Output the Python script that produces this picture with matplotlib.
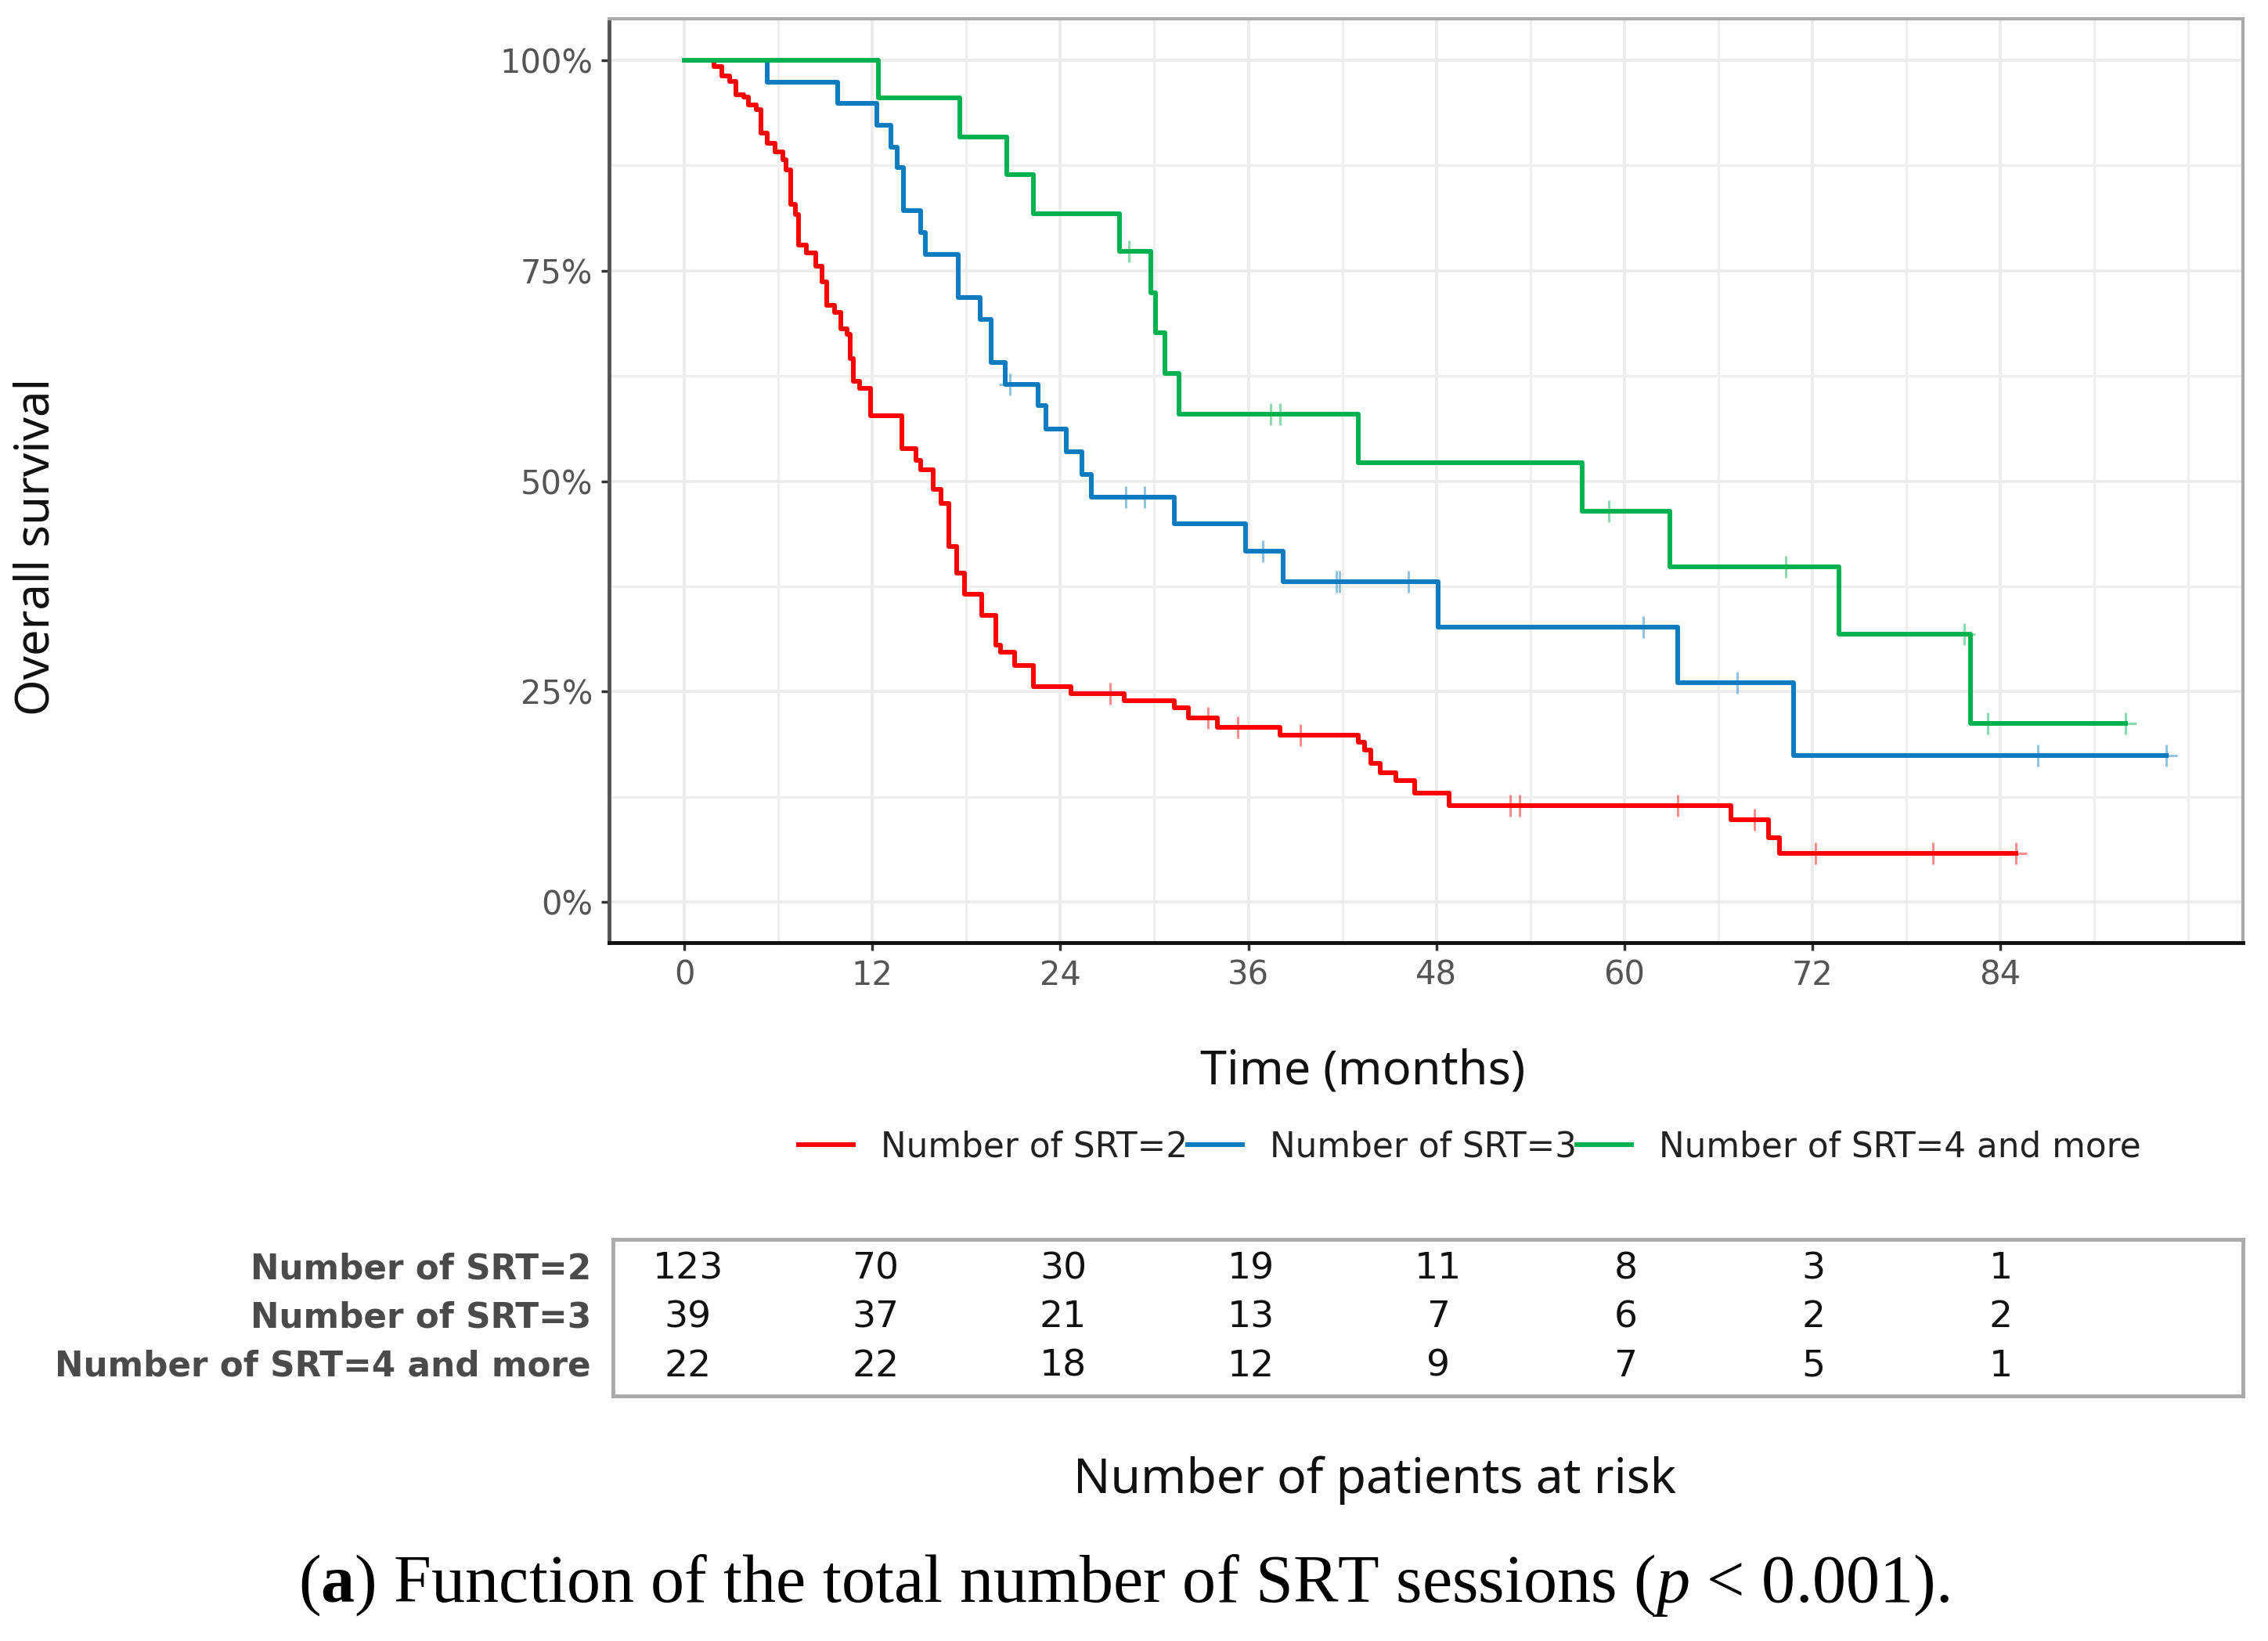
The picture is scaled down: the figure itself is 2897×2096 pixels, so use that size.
import numpy as np
import matplotlib
matplotlib.use('Agg')
import matplotlib.pyplot as plt
from matplotlib.lines import Line2D

plt.rcParams['mathtext.fontset'] = 'custom'
plt.rcParams['mathtext.rm'] = 'Liberation Serif'
plt.rcParams['mathtext.it'] = 'Liberation Serif:italic'
plt.rcParams['mathtext.bf'] = 'Liberation Serif:bold'

# Kaplan-Meier steps (time in months, survival after the drop)
red_t = [1.9, 2.4, 2.9, 3.3, 3.8, 4.1, 4.6, 4.9, 5.3, 5.8, 6.3, 6.5, 6.8, 7.1, 7.3, 7.8,
         8.4, 8.8, 9.1, 9.6, 10.0, 10.4, 10.6, 10.8, 11.2, 11.9, 13.9, 14.8, 15.1, 15.9,
         16.4, 16.9, 17.4, 17.9, 19.0, 19.9, 20.2, 21.1, 22.3, 24.7, 28.1, 31.3, 32.2,
         34.0, 38.0, 43.0, 43.4, 43.8, 44.4, 45.4, 46.6, 48.8, 66.8, 69.2, 69.9]
red_s = [0.992, 0.981, 0.975, 0.959, 0.956, 0.947, 0.941, 0.913, 0.901, 0.891, 0.882, 0.870,
         0.829, 0.817, 0.780, 0.771, 0.755, 0.737, 0.709, 0.700, 0.681, 0.674, 0.646, 0.619,
         0.610, 0.578, 0.539, 0.525, 0.514, 0.490, 0.474, 0.422, 0.391, 0.366, 0.341, 0.305,
         0.297, 0.281, 0.256, 0.248, 0.239, 0.231, 0.219, 0.208, 0.198, 0.190, 0.181, 0.165,
         0.154, 0.144, 0.130, 0.115, 0.098, 0.077, 0.058]
red_cens = [27.2, 33.4, 35.3, 39.3, 52.7, 53.3, 63.4, 68.3, 72.2, 79.7, 85.0]

blue_t = [5.3, 9.8, 12.3, 13.2, 13.6, 14.0, 15.1, 15.4, 17.5, 18.9, 19.6, 20.5, 22.6, 23.1,
          24.4, 25.4, 26.0, 31.3, 35.8, 38.2, 48.1, 63.4, 70.8]
blue_s = [0.974, 0.949, 0.923, 0.897, 0.872, 0.821, 0.795, 0.769, 0.718, 0.692, 0.641, 0.615,
          0.590, 0.562, 0.535, 0.508, 0.481, 0.449, 0.417, 0.381, 0.327, 0.261, 0.174]
blue_cens = [20.8, 28.2, 29.4, 36.9, 41.6, 41.8, 46.2, 61.2, 67.2, 86.4, 94.6]

green_t = [12.4, 17.6, 20.6, 22.3, 27.8, 29.8, 30.1, 30.7, 31.6, 43.0, 57.3, 62.9, 73.7, 82.1]
green_s = [0.955, 0.909, 0.864, 0.818, 0.773, 0.724, 0.676, 0.628, 0.580, 0.522, 0.464,
           0.398, 0.318, 0.212]
green_cens = [28.4, 37.4, 38.0, 59.0, 70.3, 81.7, 83.2, 92.0]

labels = ['Number of SRT=2', 'Number of SRT=3', 'Number of SRT=4 and more']
colors = ['#ff0000', '#0c7bc0', '#00b14f']

risk_times = [0, 12, 24, 36, 48, 60, 72, 84]
risk_2 = [123, 70, 30, 19, 11, 8, 3, 1]
risk_3 = [39, 37, 21, 13, 7, 6, 2, 2]
risk_4 = [22, 22, 18, 12, 9, 7, 5, 1]

curves = [(red_t, red_s, red_cens), (blue_t, blue_s, blue_cens), (green_t, green_s, green_cens)]

fig = plt.figure(figsize=(28.97, 20.96), dpi=100)
ax = fig.add_axes([0.2686, 0.4256, 0.7204, 0.5629])

for (t, s, cens), col in zip(curves, colors):
    xs = np.r_[0, t, max(cens)]
    ys = np.r_[1.0, s, s[-1]]
    ax.step(xs, ys, where='post', color=col, lw=4.3, zorder=3)
    # censor marks sit on the curve
    idx = np.searchsorted(xs, cens, side='right') - 1
    ax.plot(cens, ys[idx], ls='none', marker='+', ms=20, mew=2.2, color=col, alpha=0.45, zorder=4)

ax.set_xlim(-4.8, 99.5)
ax.set_ylim(-0.048, 1.049)
ax.set_xticks(risk_times)
ax.set_xticks([m for m in range(6, 97, 6) if m % 12 != 0 or m > 84], minor=True)
ax.set_yticks([0, 0.25, 0.5, 0.75, 1.0])
ax.set_yticklabels(['0%', '25%', '50%', '75%', '100%'])
ax.set_yticks([0.125, 0.375, 0.625, 0.875], minor=True)
ax.grid(which='major', color='#ebebeb', lw=2.6, zorder=0)
ax.grid(which='minor', color='#efefef', lw=2.4, zorder=0)
ax.set_axisbelow(True)
ax.tick_params(which='major', length=7, width=2.5, color='#333333', labelsize=30,
               labelcolor='#555555', pad=8)
ax.tick_params(which='minor', length=0)
for sp in ['top', 'right']:
    ax.spines[sp].set_color('#aaaaaa')
    ax.spines[sp].set_linewidth(3)
ax.spines['left'].set_color('#555555')
ax.spines['left'].set_linewidth(3.5)
ax.spines['bottom'].set_color('#111111')
ax.spines['bottom'].set_linewidth(3.5)

fig.text(0.016, 0.667, 'Overall survival', rotation=90, ha='center', va='center',
         fontsize=43, family='Noto Sans', color='#111111')
fig.text(0.601, 0.347, 'Time (months)', ha='center', va='center',
         fontsize=44, family='Noto Sans', color='#111111')

handles = [Line2D([], [], color=c, lw=4.3) for c in colors]
fig.legend(handles, labels, loc='center', bbox_to_anchor=(0.648, 0.301), ncol=3,
           frameon=False, fontsize=31.5, handlelength=1.6, handletextpad=0.8,
           columnspacing=0.0, labelcolor='#222222')

# number at risk table
ax2 = fig.add_axes([0.2703, 0.1493, 0.7187, 0.0955])
ax2.set_xlim(-4.8, 99.5)
ax2.set_ylim(0, 1)
ax2.set_xticks([])
ax2.set_yticks([])
for sp in ax2.spines.values():
    sp.set_color('#aaaaaa')
    sp.set_linewidth(3.5)
row_y = [0.81, 0.5, 0.19]
for yy, lab, vals in zip(row_y, labels, [risk_2, risk_3, risk_4]):
    ax2.text(-6.2, yy, lab, ha='right', va='center', fontsize=31.5, fontweight='bold',
             color='#4a4a4a', clip_on=False)
    for tt, v in zip(risk_times, vals):
        ax2.text(tt, yy, str(v), ha='center', va='center', fontsize=34, color='#111111')

fig.text(0.606, 0.098, 'Number of patients at risk', ha='center', va='center',
         fontsize=45, family='Noto Sans', color='#111111')

fig.text(0.4955, 0.034, r'($\mathbf{a}$) Function of the total number of SRT sessions ($\mathit{p}$ < 0.001).',
         ha='center', va='center', fontsize=62, family='Liberation Serif', color='black')

fig.savefig('out.png', dpi=100)
